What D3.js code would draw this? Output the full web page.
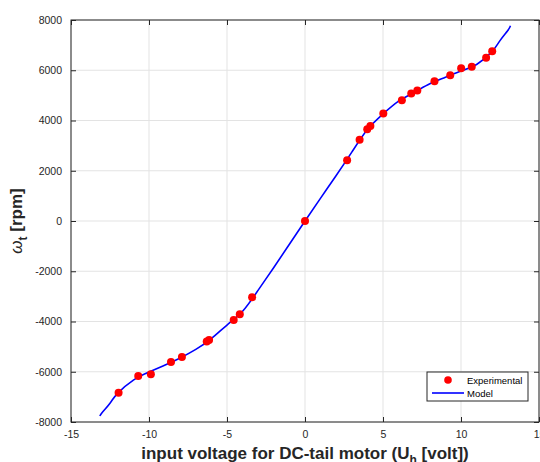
<html>
 <head>
 <meta charset="utf-8">
 <title>DC-tail motor speed</title>
<style>
 body{ margin:0; background:#fff; }
 svg{ font-family:'Liberation Sans', Arial, Helvetica, sans-serif; }
</style>
<script src="https://cdnjs.cloudflare.com/ajax/libs/d3/7.8.5/d3.min.js"></script>
 </head>
 <body>
   <div id="plot"></div>
<script>
  // experimental points (volt, rpm)
  var expU = [-11.95, -10.69, -9.88, -8.59, -7.89, -6.3, -6.15, -4.57, -4.18, -3.39, 0,
              2.7, 3.5, 3.99, 4.19, 5.02, 6.21, 6.81, 7.2, 8.3, 9.31, 10.01, 10.69, 11.61, 12.0];
  var expW = [-6840, -6165, -6095, -5611, -5412, -4800, -4740, -3940, -3714, -3036, 0,
              2420, 3235, 3649, 3785, 4275, 4805, 5070, 5190, 5562, 5800, 6080, 6142, 6494, 6756];

  // model curve
  var modelU = [-13.15, -13, -12.5, -12, -11, -10, -9, -8, -7, -6, -5, -4, -3, -2, -1, 0,
                1, 2, 3, 4, 5, 6, 7, 8, 9, 10, 11, 12, 12.5, 13, 13.17];
  var modelW = [-7760, -7620, -7250, -6850, -6330, -6010, -5740, -5450, -5110, -4680, -4140, -3590, -2750, -1850, -925, 0,
                910, 1810, 2740, 3640, 4260, 4770, 5120, 5460, 5720, 5970, 6230, 6750, 7180, 7580, 7770];

  var xTicks = [-15, -10, -5, 0, 5, 10, 15];
  var yTicks = [-8000, -6000, -4000, -2000, 0, 2000, 4000, 6000, 8000];

  var w = 540, h = 462;
  var m = {left: 71, right: 1, top: 20, bottom: 40};
  var pw = w - m.left - m.right, ph = h - m.top - m.bottom;

  var svg = d3.select("#plot").append("svg")
     .attr("width", w).attr("height", h);
  var g = svg.append("g").attr("transform", "translate(" + m.left + "," + m.top + ")");

  var x = d3.scaleLinear().domain([-15, 15]).range([0, pw]);
  var y = d3.scaleLinear().domain([-8000, 8000]).range([ph, 0]);
  var fmt = d => String(d);   // plain hyphen minus, no thousands comma

  // grid
  g.selectAll(".gx").data(xTicks).enter().append("line")
    .attr("x1", d => x(d)).attr("x2", d => x(d))
    .attr("y1", 0).attr("y2", ph)
    .attr("stroke", "#e3e3e3").attr("stroke-width", 1);
  g.selectAll(".gy").data(yTicks).enter().append("line")
    .attr("x1", 0).attr("x2", pw)
    .attr("y1", d => y(d)).attr("y2", d => y(d))
    .attr("stroke", "#e3e3e3").attr("stroke-width", 1);

  // axes (ticks inward, box all round)
  function styleAxis(sel) {
    sel.select(".domain").remove();
    sel.selectAll(".tick line").attr("stroke", "#262626");
    sel.selectAll(".tick text").attr("fill", "#262626").attr("font-size", "10.5px");
  }
  g.append("g").attr("transform", "translate(0," + ph + ")")
    .call(d3.axisBottom(x).tickValues(xTicks).tickFormat(fmt).tickSizeInner(-5).tickSizeOuter(0).tickPadding(9))
    .call(styleAxis);
  g.append("g")
    .call(d3.axisLeft(y).tickValues(yTicks).tickFormat(fmt).tickSizeInner(-5).tickSizeOuter(0).tickPadding(9))
    .call(styleAxis);
  g.append("g")
    .call(d3.axisTop(x).tickValues(xTicks).tickSizeInner(-5).tickSizeOuter(0).tickFormat(""))
    .call(styleAxis);
  g.append("g").attr("transform", "translate(" + pw + ",0)")
    .call(d3.axisRight(y).tickValues(yTicks).tickSizeInner(-5).tickSizeOuter(0).tickFormat(""))
    .call(styleAxis);
  g.append("rect").attr("width", pw).attr("height", ph)
    .attr("fill", "none").attr("stroke", "#262626").attr("stroke-width", 1);

  // model line
  var modelData = modelU.map((u, i) => [u, modelW[i]]);
  var line = d3.line().x(d => x(d[0])).y(d => y(d[1])).curve(d3.curveNatural);
  g.append("path").datum(modelData)
    .attr("d", line).attr("fill", "none")
    .attr("stroke", "#0000ff").attr("stroke-width", 1.6);

  // experimental points
  var expData = expU.map((u, i) => [u, expW[i]]);
  g.selectAll(".pt").data(expData).enter().append("circle")
    .attr("cx", d => x(d[0])).attr("cy", d => y(d[1]))
    .attr("r", 4).attr("fill", "#ff0000");

  // legend
  var lg = svg.append("g").attr("transform", "translate(427,372)");
  lg.append("rect").attr("width", 101).attr("height", 29)
    .attr("fill", "#fff").attr("stroke", "#262626").attr("stroke-width", 1);
  lg.append("circle").attr("cx", 21).attr("cy", 8).attr("r", 3.8).attr("fill", "#ff0000");
  lg.append("line").attr("x1", 5).attr("x2", 37).attr("y1", 21).attr("y2", 21)
    .attr("stroke", "#0000ff").attr("stroke-width", 1.6);
  lg.append("text").attr("x", 40).attr("y", 11.5).attr("font-size", "9.5px").attr("fill", "#000").text("Experimental");
  lg.append("text").attr("x", 40).attr("y", 24.5).attr("font-size", "9.5px").attr("fill", "#000").text("Model");

  // x label
  var xl = svg.append("text").attr("x", m.left + x(0)).attr("y", 459)
    .attr("text-anchor", "middle").attr("font-size", "17px").attr("font-weight", "bold").attr("fill", "#262626");
  xl.append("tspan").text("input voltage for DC-tail motor (U");
  xl.append("tspan").attr("font-size", "12px").attr("dy", 5).text("h");
  xl.append("tspan").attr("dy", -5).text(" [volt])");

  // y label
  var yl = svg.append("text").attr("transform", "translate(22," + (m.top + ph / 2) + ") rotate(-90)")
    .attr("text-anchor", "middle").attr("font-size", "17px").attr("font-weight", "bold").attr("fill", "#262626");
  yl.append("tspan").attr("font-style", "italic").attr("font-weight", "normal").text("\u03c9");
  yl.append("tspan").attr("font-size", "12px").attr("dy", 5).text("t");
  yl.append("tspan").attr("dy", -5).text(" [rpm]");
</script>
 </body>
</html>
